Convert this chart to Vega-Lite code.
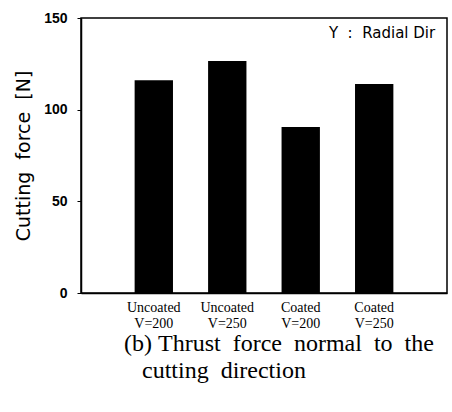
{
  "$schema": "https://vega.github.io/schema/vega-lite/v6.json",
  "width": 366,
  "height": 275,
  "autosize": {"type": "none"},
  "padding": {"left": 81, "top": 18, "right": 5, "bottom": 119},
  "background": "white",
  "config": {"view": {"stroke": "black", "strokeWidth": 1.5}},
  "title": {
    "text": ["(b)\u00a0Thrust\u00a0\u00a0force\u00a0\u00a0normal\u00a0\u00a0to\u00a0\u00a0the", "\u200b\u00a0\u00a0\u00a0cutting\u00a0\u00a0direction"],
    "orient": "bottom",
    "anchor": "start",
    "frame": "group",
    "align": "left",
    "dx": 43,
    "offset": 2,
    "font": "Liberation Serif",
    "fontSize": 24,
    "fontWeight": "normal",
    "lineHeight": 27,
    "color": "black"
  },
  "layer": [
    {
      "data": {"values": [
        {"cond": "Uncoated|V=200", "force": 116},
        {"cond": "Uncoated|V=250", "force": 126.5},
        {"cond": "Coated|V=200", "force": 90.5},
        {"cond": "Coated|V=250", "force": 114}
      ]},
      "mark": {"type": "bar", "color": "black"},
      "encoding": {
        "x": {
          "field": "cond", "type": "nominal", "sort": null,
          "scale": {"paddingInner": 0.478, "paddingOuter": 0.73},
          "axis": {
            "title": null, "ticks": false, "labelAngle": 0,
            "labelExpr": "split(datum.value, '|')",
            "labelFont": "Liberation Serif", "labelFontSize": 14,
            "labelColor": "black", "labelLineHeight": 16,
            "labelPadding": 7, "labelBaseline": "top",
            "domainColor": "black", "domainWidth": 1.5
          }
        },
        "y": {
          "field": "force", "type": "quantitative",
          "scale": {"domain": [0, 150], "nice": false},
          "axis": {
            "values": [0, 50, 100, 150], "grid": false,
            "title": "Cutting\u00a0\u00a0force\u00a0\u00a0[N]",
            "titleFont": "DejaVu Sans", "titleFontSize": 19, "titleFontWeight": "normal",
            "titleColor": "black", "titlePadding": 10,
            "labelFont": "Liberation Sans", "labelFontSize": 14, "labelFontWeight": "bold",
            "labelColor": "black", "labelPadding": 10,
            "tickSize": 4, "tickColor": "black",
            "domainColor": "black", "domainWidth": 1.5
          }
        }
      }
    },
    {
      "data": {"values": [{"note": "Y\u00a0\u00a0:\u00a0\u00a0Radial\u00a0Dir"}]},
      "mark": {"type": "text", "align": "right", "baseline": "middle", "dx": 61, "font": "DejaVu Sans", "fontSize": 15, "color": "black"},
      "encoding": {
        "x": {"datum": "Coated|V=250"},
        "y": {"datum": 141.8, "scale": {"domain": [0, 150], "nice": false}},
        "text": {"field": "note"}
      }
    }
  ]
}
